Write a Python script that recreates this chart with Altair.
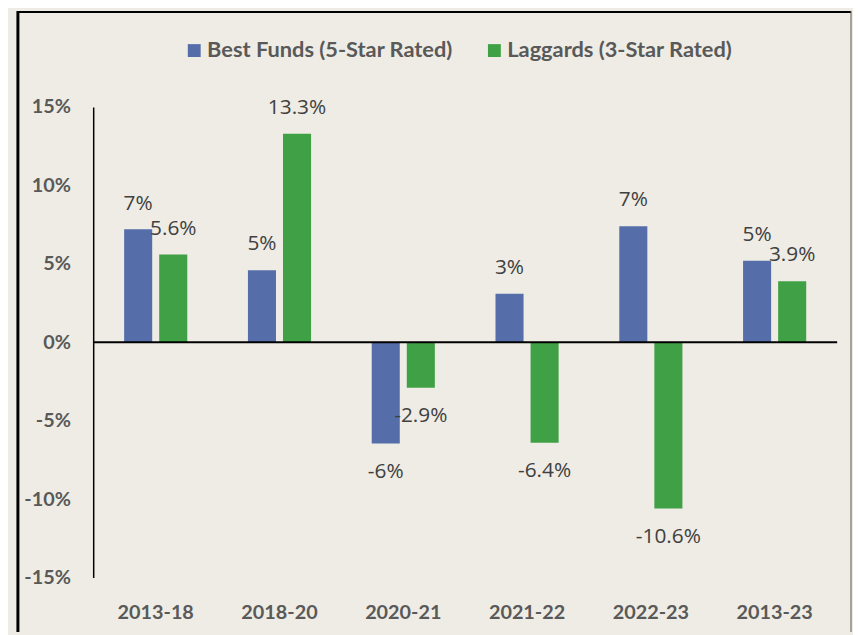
import altair as alt
import pandas as pd

periods = ["2013-18", "2018-20", "2020-21", "2021-22", "2022-23", "2013-23"]
series_names = ["Best Funds (5-Star Rated)", "Laggards (3-Star Rated)"]
best = [7.2, 4.6, -6.45, 3.1, 7.4, 5.2]
laggards = [5.6, 13.3, -2.9, -6.4, -10.6, 3.9]
y_ticks = [-15, -10, -5, 0, 5, 10, 15]

best_labels = [f"{round(v)}%" for v in best]
lag_labels = [f"{v:.1f}%" for v in laggards]

rows = []
for i, p in enumerate(periods):
    rows.append(dict(period=p, series=series_names[0], value=best[i], label=best_labels[i]))
    rows.append(dict(period=p, series=series_names[1], value=laggards[i], label=lag_labels[i]))
df = pd.DataFrame(rows)

AXIS_FONT = "Lato"
LABEL_FONT = "Open Sans"

x = alt.X(
    "period:N", sort=periods, title=None,
    scale=alt.Scale(paddingInner=0.49, paddingOuter=0.25),
    axis=alt.Axis(labelAngle=0, domain=False, ticks=False, labelPadding=25,
                  labelFont=AXIS_FONT, labelFontWeight="bold", labelFontSize=20,
                  labelColor="#595959"),
)
xo = alt.XOffset("series:N", sort=series_names,
                 scale=alt.Scale(paddingInner=0.2, paddingOuter=0))
y = alt.Y(
    "value:Q", title=None,
    scale=alt.Scale(domain=[-15, 15], nice=False, zero=False),
    axis=alt.Axis(values=y_ticks, labelExpr="datum.value + '%'", grid=False,
                  ticks=False, tickSize=0, domainColor="black", domainWidth=1.5,
                  labelPadding=23, labelFont=AXIS_FONT, labelFontWeight="bold",
                  labelFontSize=20, labelColor="#595959"),
)
color = alt.Color(
    "series:N", sort=series_names,
    scale=alt.Scale(domain=series_names, range=["#556EAA", "#40A046"]),
    legend=alt.Legend(title=None, orient="none", legendX=91, legendY=-68,
                      direction="horizontal", symbolType="square", symbolSize=169,
                      symbolStrokeWidth=0, labelFont=AXIS_FONT, labelFontWeight="bold",
                      labelFontSize=22, labelColor="#595959", columnPadding=30,
                      labelOffset=2, labelLimit=0),
)

base = alt.Chart(df)
bars = base.mark_bar().encode(x=x, xOffset=xo, y=y, color=color)

pos_labels = base.transform_filter("datum.value >= 0").mark_text(
    baseline="middle", dy=-26, font=LABEL_FONT, fontSize=21, color="#404040"
).encode(x=x, xOffset=xo, y=y, text="label:N")
neg_labels = base.transform_filter("datum.value < 0").mark_text(
    baseline="middle", dy=29, font=LABEL_FONT, fontSize=21, color="#404040"
).encode(x=x, xOffset=xo, y=y, text="label:N")

zero = alt.Chart(pd.DataFrame({"v": [0]})).mark_rule(color="black", strokeWidth=2).encode(
    y=alt.Y("v:Q")
)

frame_df = pd.DataFrame({"a": [0]})
left_line = alt.Chart(frame_df).mark_rule(color="black", strokeWidth=3).encode(
    x=alt.value(-76), y=alt.value(-97), y2=alt.value(530)
)
top_line = alt.Chart(frame_df).mark_rule(color="black", strokeWidth=2).encode(
    x=alt.value(-76), x2=alt.value(765), y=alt.value(-96)
)
right_line = alt.Chart(frame_df).mark_rule(color="#555555", strokeWidth=1).encode(
    x=alt.value(765), y=alt.value(-97), y2=alt.value(530)
)

chart = alt.layer(bars, zero, pos_labels, neg_labels, left_line, top_line, right_line).properties(
    width=751, height=475,
    padding={"left": 86, "top": 97, "right": 16, "bottom": 55},
    autosize=alt.AutoSizeParams(type="none"),
    background="#EEECE4",
).configure_view(stroke=None)

chart.save("out.html", embed_options={"renderer": "svg", "actions": False})
